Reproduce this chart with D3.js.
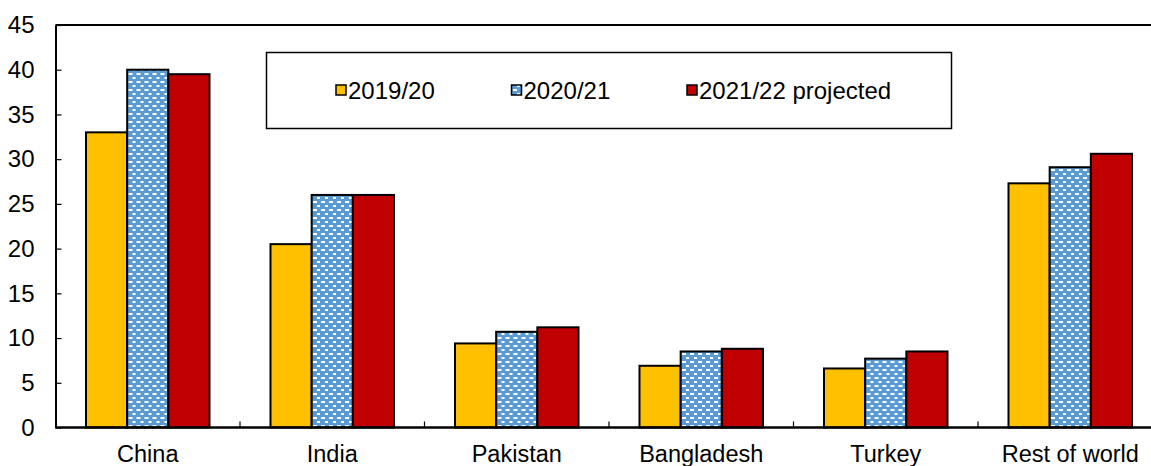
<!DOCTYPE html>
<html>
<head>
<meta charset="utf-8">
<script src="https://cdn.jsdelivr.net/npm/d3@7"></script>
<style>
  body { margin: 0; background: #fff; }
  svg { display: block; font-family: "Liberation Sans", Arial, sans-serif; }
</style>
</head>
<body>
<div id="chart"></div>
<script>
// Data
const categories = ["China", "India", "Pakistan", "Bangladesh", "Turkey", "Rest of world"];
const seriesNames = ["2019/20", "2020/21", "2021/22 projected"];
const values2019 = [33.0, 20.5, 9.4, 6.9, 6.6, 27.3];
const values2020 = [40.0, 26.0, 10.7, 8.5, 7.7, 29.1];
const values2021 = [39.5, 26.0, 11.2, 8.8, 8.5, 30.6];
const yTicks = [0, 5, 10, 15, 20, 25, 30, 35, 40, 45];

const seriesValues = [values2019, values2020, values2021];

let width = 1151,
    height = 466,
    plotLeft = 55.5,
    plotRight = 1162.5,   // plot runs past the right edge of the picture
    plotTop = 25,
    plotBottom = 427.5;

let svg = d3.select("#chart")
    .append("svg")
    .attr("width", width)
    .attr("height", height);

// patterned fill for the middle series
let defs = svg.append("defs");
let pat = defs.append("pattern")
    .attr("id", "dots")
    .attr("patternUnits", "userSpaceOnUse")
    .attr("width", 8)
    .attr("height", 8);
pat.append("rect").attr("width", 8).attr("height", 8).attr("fill", "#5b9bd5");
pat.append("rect").attr("x", 1).attr("y", 1).attr("width", 4).attr("height", 2).attr("fill", "#fff");
pat.append("rect").attr("x", 5).attr("y", 5).attr("width", 4).attr("height", 2).attr("fill", "#fff");

let fills = ["#ffc000", "url(#dots)", "#c00000"];

let x0 = d3.scaleBand()
    .domain(categories)
    .range([plotLeft, plotRight])
    .padding(0);

let barGap = 30.5;
let x1 = d3.scaleBand()
    .domain(seriesNames)
    .range([barGap, x0.bandwidth() - barGap])
    .padding(0);

let y = d3.scaleLinear()
    .domain([0, 45])
    .range([plotBottom, plotTop]);

// top border line
svg.append("line")
    .attr("x1", plotLeft).attr("x2", width)
    .attr("y1", plotTop).attr("y2", plotTop)
    .attr("stroke", "#000")
    .attr("stroke-width", 2);

// bars
let rows = categories.map((c, i) => ({
    cat: c,
    vals: seriesNames.map((s, j) => ({ s, j, v: seriesValues[j][i] }))
}));

svg.append("g")
    .selectAll("g")
    .data(rows)
    .join("g")
    .attr("transform", d => `translate(${x0(d.cat)},0)`)
    .selectAll("rect")
    .data(d => d.vals)
    .join("rect")
    .attr("x", d => x1(d.s))
    .attr("y", d => y(d.v))
    .attr("width", x1.bandwidth())
    .attr("height", d => y(0) - y(d.v))
    .attr("fill", d => fills[d.j])
    .attr("stroke", "#000")
    .attr("stroke-width", 2);

// y axis
let yAxis = d3.axisLeft(y)
    .tickValues(yTicks)
    .tickSizeInner(-6)
    .tickSizeOuter(0)
    .tickPadding(21);

svg.append("g")
    .attr("transform", `translate(${plotLeft},0)`)
    .call(yAxis)
    .call(g => g.select(".domain").attr("stroke-width", 2))
    .call(g => g.selectAll(".tick line").attr("stroke-width", 1.2))
    .call(g => g.selectAll("text")
        .attr("font-size", "24px")
        .attr("font-family", "Liberation Sans, Arial, sans-serif")
        .attr("fill", "#000"));

// x axis with labels centred on categories
let xAxis = d3.axisBottom(x0)
    .tickSize(0)
    .tickPadding(18);

svg.append("g")
    .attr("transform", `translate(0,${plotBottom})`)
    .call(xAxis)
    .call(g => g.select(".domain").attr("d", `M${plotLeft},0H${width}`).attr("stroke-width", 2.5))
    .call(g => g.selectAll("text")
        .attr("font-size", "23.5px")
        .attr("font-family", "Liberation Sans, Arial, sans-serif")
        .attr("fill", "#000"));

// small tick marks between categories
svg.append("g")
    .selectAll("line")
    .data(categories.slice(1))
    .join("line")
    .attr("x1", d => x0(d)).attr("x2", d => x0(d))
    .attr("y1", plotBottom).attr("y2", plotBottom - 6)
    .attr("stroke", "#000")
    .attr("stroke-width", 1.2);

// legend
let legend = svg.append("g");
legend.append("rect")
    .attr("x", 266.5).attr("y", 52.5)
    .attr("width", 685).attr("height", 76)
    .attr("fill", "#fff")
    .attr("stroke", "#000")
    .attr("stroke-width", 1.5);

let legendX = [336, 511.5, 687];
seriesNames.forEach((name, i) => {
    legend.append("rect")
        .attr("x", legendX[i]).attr("y", 85)
        .attr("width", 10).attr("height", 10)
        .attr("fill", fills[i])
        .attr("stroke", "#000")
        .attr("stroke-width", 1.5);
    legend.append("text")
        .attr("x", legendX[i] + 12)
        .attr("y", 99)
        .attr("font-size", "24px")
        .attr("fill", "#000")
        .text(name);
});
</script>
</body>
</html>
